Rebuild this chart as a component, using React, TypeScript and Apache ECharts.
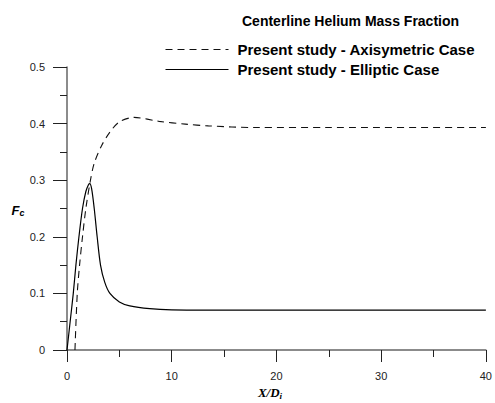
import React, { useEffect, useRef } from "react";
import * as echarts from "echarts";

const axiX = [0.76, 0.98, 1.2, 1.48, 1.8, 2.24, 2.6, 3.3, 4.1, 5.0, 6.4, 8.8, 11.3, 13.5, 18, 25, 40];
const axiY = [0, 0.1, 0.15, 0.2, 0.25, 0.3, 0.33, 0.361, 0.385, 0.403, 0.411, 0.404, 0.399, 0.396, 0.393, 0.393, 0.393];

const ellX = [0, 0.3, 0.6, 0.85, 1.14, 1.48, 1.8, 2.05, 2.18, 2.35, 2.6, 2.88, 3.2, 3.6, 4.1, 5.0, 6.0, 7.9, 10, 15, 40];
const ellY = [0, 0.05, 0.1, 0.15, 0.2, 0.25, 0.28, 0.292, 0.294, 0.285, 0.25, 0.2, 0.15, 0.12, 0.1, 0.085, 0.078, 0.073, 0.071, 0.0705, 0.0705];

const seriesNames = ["Present study - Axisymetric Case", "Present study - Elliptic Case"];
const titleText = "Centerline Helium Mass Fraction";

const zip = (xs: number[], ys: number[]) => xs.map((x, i) => [x, ys[i]]);

export default function App() {
  const ref = useRef<HTMLDivElement>(null);
  useEffect(() => {
    if (!ref.current) return;
    const chart = echarts.init(ref.current, undefined, { renderer: "svg" });
    const font = "'Liberation Sans', Arial, sans-serif";
    chart.setOption({
      animation: false,
      backgroundColor: "#fff",
      title: {
        text: titleText,
        left: 237,
        top: 9,
        textStyle: { fontFamily: font, fontWeight: "bold", fontSize: 14, color: "#000" },
      },
      legend: {
        orient: "vertical",
        left: 160,
        top: 37,
        itemWidth: 63,
        itemHeight: 14,
        itemGap: 5,
        data: seriesNames,
        itemStyle: { color: "rgba(0,0,0,0)", borderWidth: 0, opacity: 0 },
        lineStyle: { width: 1 },
        textStyle: { fontFamily: font, fontWeight: "bold", fontSize: 15, color: "#000", padding: [0, 0, 0, 4] },
      },
      grid: { left: 67, right: 6, top: 67, bottom: 53 },
      xAxis: {
        type: "value",
        min: 0,
        max: 40,
        interval: 10,
        axisLine: { show: true, onZero: false, lineStyle: { color: "#666", width: 1.5 } },
        axisTick: { show: true, length: 12, inside: false, lineStyle: { color: "#222", width: 1 } },
        minorTick: { show: true, splitNumber: 2, length: 7, lineStyle: { color: "#222", width: 1 } },
        splitLine: { show: false },
        axisLabel: { margin: 20, fontFamily: font, fontSize: 11, color: "#222" },
      },
      yAxis: {
        type: "value",
        min: 0,
        max: 0.5,
        interval: 0.1,
        axisLine: { show: true, onZero: false, lineStyle: { color: "#666", width: 1.5 } },
        axisTick: { show: true, length: 14, lineStyle: { color: "#222", width: 1 } },
        minorTick: { show: true, splitNumber: 2, length: 7, lineStyle: { color: "#222", width: 1 } },
        splitLine: { show: false },
        axisLabel: {
          margin: 22,
          fontFamily: font,
          fontSize: 11,
          color: "#222",
          formatter: (v: number) => (v === 0 ? "0" : String(Math.round(v * 10) / 10)),
        },
      },
      graphic: [
        {
          type: "text",
          x: 270,
          y: 392,
          style: {
            text: "{a|X/D}{b|i}",
            align: "center",
            verticalAlign: "middle",
            rich: {
              a: { fontFamily: "'Liberation Serif', serif", fontStyle: "italic", fontWeight: "bold", fontSize: 13, fill: "#000" },
              b: { fontFamily: "'Liberation Serif', serif", fontStyle: "italic", fontWeight: "bold", fontSize: 9, fill: "#000", padding: [8, 0, 0, 0] },
            },
          },
        },
        {
          type: "text",
          x: 18,
          y: 210,
          style: {
            text: "{a|F}{b|c}",
            align: "center",
            verticalAlign: "middle",
            rich: {
              a: { fontFamily: font, fontStyle: "italic", fontWeight: "bold", fontSize: 13, fill: "#000" },
              b: { fontFamily: font, fontStyle: "italic", fontWeight: "bold", fontSize: 9, fill: "#000", padding: [6, 0, 0, 0] },
            },
          },
        },
      ],
      series: [
        {
          name: seriesNames[0],
          type: "line",
          data: zip(axiX, axiY),
          smooth: 0.3,
          symbol: "none",
          lineStyle: { color: "#111", width: 1.1, type: [7, 5] },
          itemStyle: { color: "#111" },
        },
        {
          name: seriesNames[1],
          type: "line",
          data: zip(ellX, ellY),
          smooth: 0.3,
          symbol: "none",
          lineStyle: { color: "#000", width: 1.2, type: "solid" },
          itemStyle: { color: "#000" },
        },
      ],
    });
    return () => chart.dispose();
  }, []);
  return <div ref={ref} style={{ width: 495, height: 403, position: "absolute", left: 0, top: 0 }} />;
}
